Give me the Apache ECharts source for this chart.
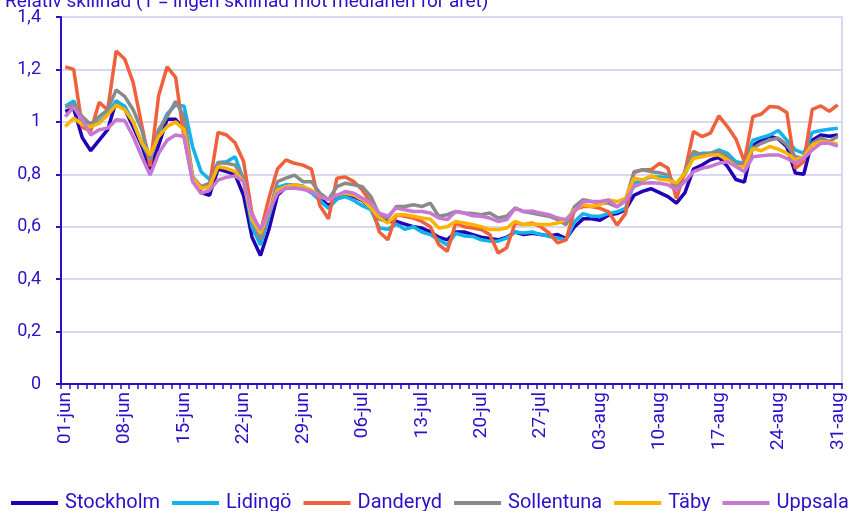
<!DOCTYPE html>
<html>
<head>
<meta charset="utf-8">
<script src="https://cdn.jsdelivr.net/npm/echarts@6/dist/echarts.min.js"></script>
<style>html,body{margin:0;padding:0;background:#fff;}#c{width:861px;height:511px;}</style>
</head>
<body>
<div id="c"></div>
<script>
// Categories: daily dates 01-jun .. 31-aug
const months = [['jun', 30], ['jul', 31], ['aug', 31]];
const categories = [];
months.forEach(([m, n]) => { for (let d = 1; d <= n; d++) categories.push((d < 10 ? '0' : '') + d + '-' + m); });

const yTicks = [0, 0.2, 0.4, 0.6, 0.8, 1, 1.2, 1.4];

const stockholm = [1.04,1.05,0.94,0.89,0.93,0.97,1.08,1.05,0.98,0.91,0.82,0.91,1.01,1.01,0.97,0.79,0.73,0.72,0.82,0.81,0.80,0.72,0.56,0.49,0.59,0.72,0.75,0.75,0.75,0.73,0.71,0.68,0.71,0.72,0.715,0.70,0.67,0.63,0.62,0.62,0.61,0.60,0.595,0.58,0.56,0.55,0.58,0.58,0.57,0.56,0.555,0.55,0.56,0.58,0.57,0.575,0.57,0.565,0.57,0.555,0.60,0.63,0.63,0.625,0.645,0.65,0.665,0.72,0.735,0.745,0.73,0.715,0.69,0.73,0.82,0.835,0.855,0.865,0.83,0.78,0.77,0.91,0.93,0.945,0.935,0.905,0.805,0.80,0.93,0.95,0.945,0.95];
const lidingo = [1.06,1.08,1.00,0.995,1.00,1.03,1.08,1.06,1.00,0.92,0.855,0.96,1.03,1.065,1.06,0.905,0.81,0.78,0.845,0.848,0.867,0.78,0.60,0.53,0.64,0.75,0.76,0.76,0.755,0.73,0.70,0.67,0.705,0.715,0.70,0.68,0.665,0.595,0.59,0.61,0.59,0.60,0.58,0.57,0.55,0.53,0.575,0.565,0.563,0.55,0.545,0.545,0.557,0.58,0.576,0.58,0.57,0.563,0.557,0.55,0.62,0.65,0.64,0.64,0.65,0.657,0.67,0.766,0.778,0.79,0.79,0.785,0.76,0.80,0.867,0.88,0.88,0.893,0.88,0.848,0.842,0.93,0.94,0.95,0.967,0.93,0.893,0.88,0.96,0.967,0.972,0.976];
const danderyd = [1.21,1.20,0.98,0.965,1.075,1.045,1.27,1.24,1.15,0.99,0.83,1.10,1.21,1.17,0.94,0.78,0.75,0.76,0.96,0.95,0.92,0.85,0.65,0.58,0.71,0.82,0.855,0.842,0.835,0.82,0.68,0.63,0.785,0.79,0.772,0.74,0.69,0.58,0.55,0.646,0.64,0.633,0.62,0.60,0.532,0.506,0.614,0.60,0.595,0.589,0.57,0.50,0.52,0.614,0.608,0.614,0.60,0.576,0.538,0.55,0.665,0.677,0.677,0.67,0.657,0.606,0.65,0.806,0.817,0.817,0.842,0.823,0.708,0.81,0.963,0.944,0.957,1.023,0.982,0.935,0.848,1.02,1.03,1.059,1.056,1.036,0.823,0.848,1.048,1.061,1.04,1.065];
const sollentuna = [1.056,1.065,1.02,0.99,1.02,1.046,1.122,1.097,1.046,0.97,0.855,0.97,1.02,1.078,1.02,0.79,0.753,0.766,0.844,0.842,0.835,0.785,0.627,0.55,0.652,0.772,0.785,0.797,0.772,0.772,0.728,0.703,0.753,0.766,0.76,0.753,0.715,0.646,0.633,0.677,0.677,0.684,0.677,0.69,0.64,0.646,0.658,0.652,0.65,0.646,0.652,0.633,0.64,0.671,0.658,0.652,0.646,0.64,0.627,0.608,0.677,0.703,0.696,0.69,0.69,0.676,0.70,0.81,0.817,0.81,0.806,0.797,0.753,0.81,0.887,0.874,0.88,0.887,0.867,0.835,0.842,0.899,0.918,0.931,0.938,0.912,0.867,0.861,0.918,0.938,0.925,0.944];
const taby = [0.982,1.014,0.99,0.982,0.995,1.027,1.065,1.046,1.00,0.92,0.874,0.944,0.982,1.00,0.97,0.785,0.746,0.753,0.829,0.823,0.81,0.772,0.627,0.576,0.658,0.74,0.753,0.76,0.753,0.74,0.715,0.703,0.72,0.728,0.72,0.703,0.671,0.633,0.614,0.646,0.646,0.64,0.633,0.629,0.595,0.60,0.62,0.614,0.608,0.60,0.589,0.589,0.595,0.62,0.608,0.61,0.608,0.608,0.614,0.627,0.665,0.684,0.677,0.684,0.702,0.696,0.708,0.785,0.778,0.794,0.781,0.778,0.766,0.804,0.861,0.867,0.874,0.874,0.855,0.83,0.829,0.899,0.89,0.906,0.896,0.88,0.855,0.867,0.912,0.925,0.921,0.916];
const uppsala = [1.02,1.056,1.008,0.95,0.97,0.976,1.008,1.005,0.944,0.868,0.797,0.88,0.93,0.95,0.944,0.772,0.727,0.74,0.778,0.789,0.794,0.772,0.646,0.589,0.658,0.728,0.747,0.747,0.743,0.734,0.715,0.703,0.72,0.734,0.728,0.709,0.69,0.652,0.64,0.671,0.665,0.658,0.658,0.652,0.633,0.627,0.658,0.652,0.642,0.64,0.633,0.62,0.627,0.671,0.658,0.66,0.652,0.646,0.633,0.627,0.658,0.696,0.696,0.696,0.702,0.676,0.70,0.753,0.766,0.768,0.766,0.76,0.74,0.772,0.81,0.823,0.83,0.842,0.848,0.83,0.81,0.867,0.871,0.874,0.874,0.861,0.842,0.861,0.893,0.918,0.918,0.908];

const seriesNames = ['Stockholm', 'Lidingö', 'Danderyd', 'Sollentuna', 'Täby', 'Uppsala'];
const seriesData = [stockholm, lidingo, danderyd, sollentuna, taby, uppsala];
const colors = ['#2200b4', '#12b2ec', '#f0603c', '#8a8a8a', '#ffb300', '#c878d2'];

const textColor = '#2a10c8';
const axisColor = '#2a10c8';
const gridColor = '#d8d8ef';
const font = 'Roboto, "Noto Sans", sans-serif';

const chart = echarts.init(document.getElementById('c'), null, { renderer: 'canvas' });
chart.setOption({
  animation: false,
  color: colors,
  textStyle: { fontFamily: font },
  title: {
    text: 'Relativ skillnad (1 = ingen skillnad mot medianen för året)',
    left: 0, top: -12,
    textStyle: { color: textColor, fontSize: 19, fontWeight: 'normal', fontFamily: font }
  },
  grid: { left: 61, right: 19, top: 17, bottom: 127, containLabel: false },
  legend: {
    data: seriesNames,
    left: 6, top: 488,
    icon: 'rect', itemWidth: 47, itemHeight: 4, itemGap: 12,
    textStyle: { color: textColor, fontSize: 20, fontFamily: font, padding: [0, 0, 0, 2] }
  },
  xAxis: {
    type: 'category',
    data: categories,
    boundaryGap: true,
    axisLine: { lineStyle: { color: axisColor, width: 2 } },
    axisTick: { show: true, interval: 0, length: 5, lineStyle: { color: axisColor, width: 1.5 } },
    axisLabel: { interval: 6, rotate: 90, margin: 8, color: textColor, fontSize: 19, fontFamily: font },
    splitLine: { show: false }
  },
  yAxis: [{
    type: 'value',
    min: yTicks[0], max: yTicks[yTicks.length - 1], interval: 0.2,
    axisLine: { show: true, lineStyle: { color: axisColor, width: 2 } },
    axisTick: { show: true, length: 5, lineStyle: { color: axisColor, width: 2 } },
    axisLabel: {
      margin: 20, color: textColor, fontSize: 18, fontFamily: font,
      formatter: v => String(Math.round(v * 10) / 10).replace('.', ',')
    },
    splitLine: { show: true, lineStyle: { color: gridColor, width: 2 } }
  }, {
    type: 'value', position: 'right',
    min: yTicks[0], max: yTicks[yTicks.length - 1], interval: 0.2,
    axisLine: { show: true, lineStyle: { color: gridColor, width: 2 } },
    axisTick: { show: false }, axisLabel: { show: false }, splitLine: { show: false }
  }],
  series: seriesNames.map((name, i) => ({
    name, type: 'line', data: seriesData[i],
    showSymbol: false, symbol: 'none',
    lineStyle: { width: 3.5, color: colors[i] },
    itemStyle: { color: colors[i] },
    z: 2 + i
  }))
});
</script>
</body>
</html>
